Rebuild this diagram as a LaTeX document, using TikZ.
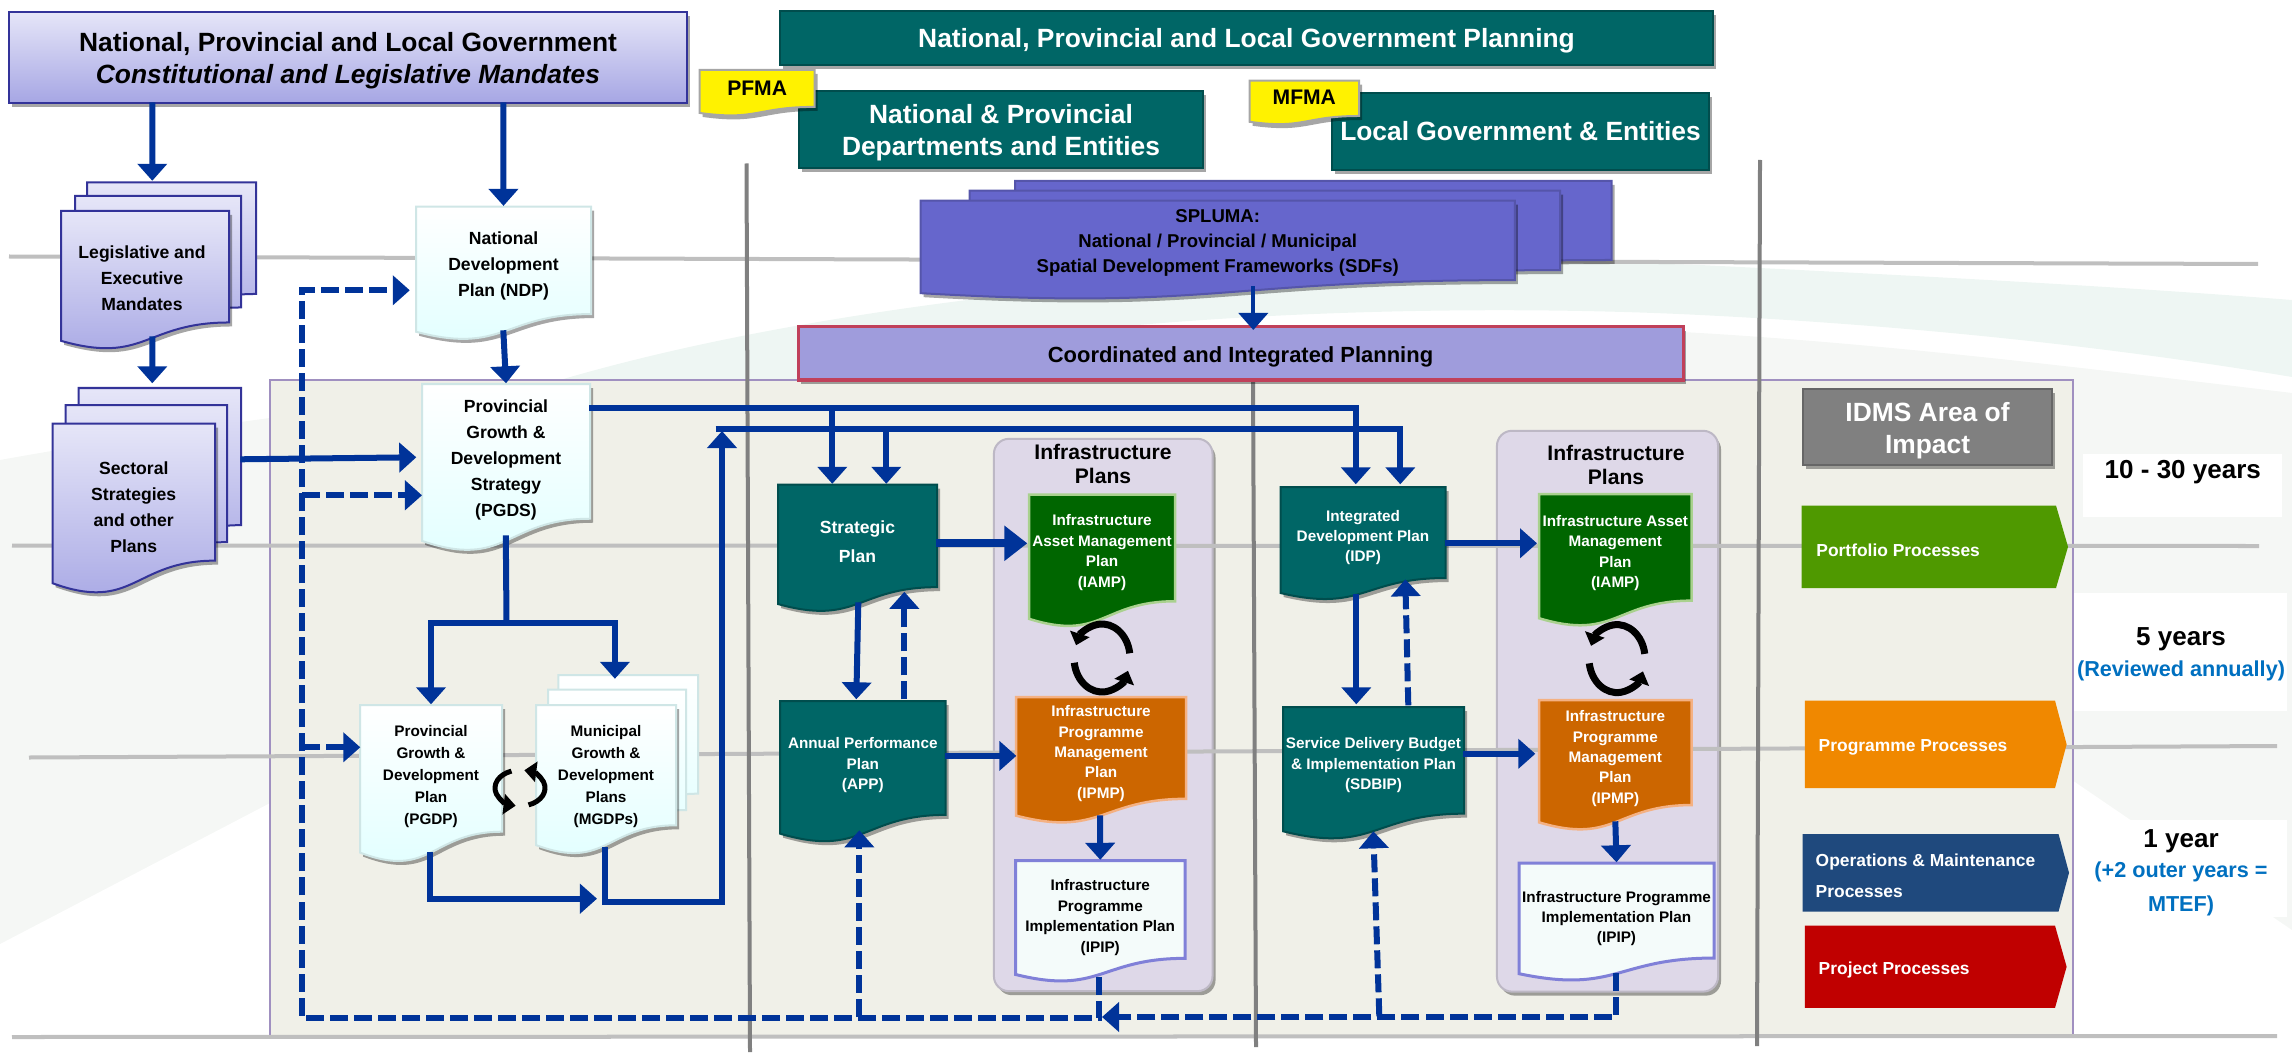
\documentclass[tikz,border=0pt]{standalone}
\usepackage{fontspec}
\setmainfont{Liberation Sans}
\usetikzlibrary{arrows.meta}
\usetikzlibrary{shadows}
\definecolor{flowblue}{HTML}{003399}
\definecolor{linegray}{HTML}{BFBFBF}
\definecolor{poledark}{HTML}{808080}
\definecolor{tealbase}{HTML}{006666}
\definecolor{tealdark}{HTML}{004D4D}
\definecolor{paneloff}{HTML}{F0F0E8}
\definecolor{panelrim}{HTML}{A090C0}
\definecolor{infrafill}{HTML}{DED8E8}
\definecolor{annualblue}{HTML}{0070C0}
\definecolor{swooshgreen}{HTML}{EEF6F3}
\definecolor{swooshgray}{HTML}{F5F7F5}
\definecolor{lilacA}{HTML}{E6E6F8}
\definecolor{lilacB}{HTML}{A6A6E4}
\definecolor{lilacC}{HTML}{333399}
\definecolor{paleB}{HTML}{E0FFFF}
\definecolor{paleC}{HTML}{CFE6E6}
\definecolor{iampgreen}{HTML}{006600}
\definecolor{iamprim}{HTML}{A9D18E}
\definecolor{ipmporange}{HTML}{CC6600}
\definecolor{ipmprim}{HTML}{F4B183}
\definecolor{ipipfill}{HTML}{F4FBFA}
\definecolor{ipiprim}{HTML}{8080D8}
\definecolor{splumafill}{HTML}{6666CC}
\definecolor{splumarim}{HTML}{5555AA}
\definecolor{coordfill}{HTML}{9F9CDC}
\definecolor{coordrim}{HTML}{C0405A}
\definecolor{procgreen}{HTML}{4F9900}
\definecolor{procorange}{HTML}{F08800}
\definecolor{procblue}{HTML}{1F497D}
\definecolor{procred}{HTML}{C00000}

\tikzset{
  softshadow/.style={drop shadow={shadow xshift=.03cm,shadow yshift=-.04cm,opacity=.35,fill=black}},
  flowline/.style={draw=flowblue,line width=.06cm,-{Triangle[length=.17cm,width=.29cm]}},
  flowbare/.style={draw=flowblue,line width=.06cm},
  flowbig/.style={draw=flowblue,line width=.08cm,-{Triangle[length=.23cm,width=.34cm]}},
  flowthin/.style={draw=flowblue,line width=.04cm,-{Triangle[length=.17cm,width=.29cm]}},
  flowdash/.style={flowline,dash pattern=on .18cm off .06cm},
  grayline/.style={draw=linegray,line width=.04cm},
  pole/.style={draw=poledark,line width=.04cm},
  lilacdoc/.style={top color=lilacA,bottom color=lilacB,draw=lilacC,line width=.02cm},
  paledoc/.style={top color=white,bottom color=paleB,draw=paleC,line width=.02cm},
  tealdoc/.style={fill=tealbase,draw=tealdark,line width=.02cm,softshadow},
  greendoc/.style={fill=iampgreen,draw=iamprim,line width=.025cm},
  orangedoc/.style={fill=ipmporange,draw=ipmprim,line width=.025cm},
  whitedoc/.style={fill=ipipfill,draw=ipiprim,line width=.03cm},
  notedoc/.style={fill=yellow,draw=black!35,line width=.02cm,softshadow},
  spluma/.style={fill=splumafill,draw=splumarim,line width=.02cm,softshadow},
  govfill/.style={lilacdoc,softshadow},
  coordshape/.style={fill=coordfill,draw=coordrim,line width=.03cm,softshadow},
  idmsshape/.style={fill=poledark,draw=black!60,line width=.02cm,softshadow},
  bigtext/.style={font=\bfseries\fontsize{7.5}{9.1}\selectfont,align=center,inner sep=0pt},
  bigwhite/.style={bigtext,text=white},
  doctext/.style={font=\bfseries\fontsize{5}{7.4}\selectfont,align=center,inner sep=0pt},
  smalltext/.style={font=\bfseries\fontsize{4.35}{5.8}\selectfont,align=center,inner sep=0pt},
  widesmall/.style={font=\bfseries\fontsize{4.35}{6.26}\selectfont,align=center,inner sep=0pt},
  stratext/.style={font=\bfseries\fontsize{5}{8.3}\selectfont,align=center,inner sep=0pt,text=white},
  proctext/.style={font=\bfseries\fontsize{4.95}{8.9}\selectfont,align=left,inner sep=0pt,text=white,anchor=west},
  yeartext/.style={font=\bfseries\fontsize{7.4}{9.1}\selectfont,align=center,inner sep=0pt},
  bluetext/.style={font=\bfseries\fontsize{6.15}{9.5}\selectfont,align=center,inner sep=0pt,text=annualblue},
  notetext/.style={font=\bfseries\fontsize{6}{7}\selectfont,inner sep=0pt},
  splumatext/.style={font=\bfseries\fontsize{5.28}{7.1}\selectfont,align=center,inner sep=0pt},
  coordtext/.style={font=\bfseries\fontsize{6.24}{7.5}\selectfont,inner sep=0pt},
  infrapanel/.style={fill=infrafill,draw=infrafill!85!black,line width=.02cm,rounded corners=.15cm,softshadow},
  infratitle/.style={font=\bfseries\fontsize{6}{6.8}\selectfont,align=center,inner sep=0pt},
  cyclearrow/.style={draw=black,line width=#1,-{Triangle[length=.12cm,width=.2cm]}},
}

% page with wavy foot: style, x, y, width, height
\newcommand{\docpage}[5]{%
  \path[#1] (#2,#3) -- ({#2+#4},#3) -- ({#2+#4},{#3+.802*#5})
    .. controls ({#2+.5*#4},{#3+.802*#5}) and ({#2+.5*#4},{#3+1.107*#5}) .. (#2,{#3+.934*#5}) -- cycle;}
% page plus its text: style, text style, name, x, y, width, height, text centre y, text
\newcommand{\docnode}[9]{%
  \docpage{#1}{#4}{#5}{#6}{#7}
  \node[#2,minimum width={#6*.01cm},minimum height={2*(#8+2.5-#5)*.01cm}] (#3) at ({#4+.5*#6},{#8+2.5}) {#9};}
% plain box plus its text, same arguments
\newcommand{\boxnode}[9]{%
  \path[#1] (#4,#5) rectangle ({#4+#6},{#5+#7});
  \node[#2,minimum width={#6*.01cm},minimum height={2*(#8+2.5-#5)*.01cm}] (#3) at ({#4+.5*#6},{#8+2.5}) {#9};}
% process tag: fill, name, x, shoulder x, tip x, top y, bottom y, text x, text
\newcommand{\procnode}[9]{%
  \fill[#1] (#3,#6) -- (#4,#6) -- (#5,{.5*(#6+#7)}) -- (#4,#7) -- (#3,#7) -- cycle;
  \node[proctext] (#2) at (#8,{.5*(#6+#7)+3}) {#9};}
% two arrows chasing each other: x, y, x radius, y radius, first angle, line width
\newcommand{\cyclepair}[6]{%
  \draw[cyclearrow=#6] ({#1+#3*cos(#5)},{#2-#4*sin(#5)}) arc[start angle=#5,delta angle=150,x radius=#3*.01cm,y radius=#4*.01cm];
  \draw[cyclearrow=#6] ({#1+#3*cos(#5+180)},{#2-#4*sin(#5+180)}) arc[start angle=#5+180,delta angle=150,x radius=#3*.01cm,y radius=#4*.01cm];}

\begin{document}
\begin{tikzpicture}[x=.01cm,y=-.01cm]
\useasboundingbox (0,0) rectangle (2292,1052);

% backdrop
\fill[swooshgray] (0,460) .. controls (500,370) and (1300,310) .. (1700,333) .. controls (1900,345) and (2100,370) .. (2292,393) -- (2292,930) -- (2072,780) -- (270,803) -- (0,944) -- cycle;
\fill[swooshgreen] (560,380) .. controls (900,280) and (1400,255) .. (1700,265) .. controls (1900,275) and (2100,285) .. (2292,300) -- (2292,377) .. controls (2100,345) and (1900,325) .. (1700,315) .. controls (1400,300) and (1000,320) .. (800,380) -- cycle;

% area panel
\draw[fill=paneloff,draw=panelrim,line width=.02cm] (269.5,380) rectangle (2072.6,1037);
\node[infrapanel,minimum width=2.185cm,minimum height=5.52cm] (infra1) at (1103.2,715) {};
\node[infrapanel,minimum width=2.21cm,minimum height=5.605cm] (infra2) at (1607.5,711.2) {};

% grey rules
\draw[grayline] (9,256.5) -- (2258,264);
\draw[grayline] (12,545.5) -- (2259,546);
\draw[grayline] (29,757.5) -- (2277,746);
\draw[grayline] (12,1037) -- (2277,1036);
\draw[pole] (746.5,163.5) -- (750,1052);
\draw[pole] (1253,380) -- (1256,1047);
\draw[pole] (1760,160) -- (1757,1046);

% year labels
\fill[white] (2083,454) rectangle (2282,516.7);
\fill[white] (2074,593) rectangle (2286.6,711);
\fill[white] (2074,820) rectangle (2286.6,917);
\node[yeartext] (yrs10) at (2182.8,472) {10 - 30 years};
\node[yeartext] (yrs5) at (2181,639) {5 years};
\node[bluetext] (yrs5b) at (2181,671) {(Reviewed annually)};
\node[yeartext] (yrs1) at (2181,841) {1 year};
\node[bluetext] (yrs1b) at (2181,889) {(+2 outer years =\\MTEF)};

% top boxes
\boxnode{govfill}{bigtext}{govbox}{9}{11.7}{678}{91.3}{58}{National, Provincial and Local Government\\\textit{Constitutional and Legislative Mandates}}
\boxnode{tealdoc}{bigwhite}{planbox}{780}{10.7}{933}{54.3}{38.5}{National, Provincial and Local Government Planning}
\boxnode{tealdoc}{bigwhite}{natbox}{799}{90.7}{404}{77.3}{130.5}{National \& Provincial\\Departments and Entities}
\boxnode{tealdoc}{bigwhite}{localbox}{1332}{92.7}{377}{77.3}{129}{Local Government \& Entities}
\docnode{notedoc}{notetext}{pfma}{699.6}{70}{115.1}{46}{86}{PFMA}
\docnode{notedoc}{notetext}{mfma}{1249.6}{80.7}{109.4}{44}{95.2}{MFMA}

% spatial frameworks
\docpage{spluma}{1015}{181}{596.6}{98.5}
\docpage{spluma}{969.7}{190.7}{590.3}{99}
\docnode{spluma}{splumatext}{splumadoc}{920.6}{200.7}{594.2}{99}{240.7}{SPLUMA:\\National / Provincial / Municipal\\Spatial Development Frameworks (SDFs)}
\boxnode{coordshape}{coordtext}{coordbox}{798}{326.7}{885}{53.3}{354.5}{Coordinated and Integrated Planning}

% mandates and national plans
\docpage{lilacdoc}{87}{182.5}{169}{139}
\docpage{lilacdoc}{75}{196}{166}{139}
\docnode{lilacdoc,softshadow}{doctext,xshift=-.03cm}{legis}{61}{211}{168}{139}{275.5}{Legislative and\\Executive\\Mandates}
\docpage{lilacdoc}{78.5}{388}{162.5}{171}
\docpage{lilacdoc}{65.5}{405}{161.5}{171}
\docnode{lilacdoc,softshadow}{doctext}{sector}{52.5}{423.5}{162.5}{171}{504.5}{Sectoral\\Strategies\\and other\\Plans}
\docnode{paledoc,softshadow}{doctext}{ndp}{416}{206.6}{175}{134}{263}{National\\Development\\Plan (NDP)}
\docnode{paledoc,softshadow}{doctext}{pgds}{422}{384}{168}{168}{457}{Provincial\\Growth \&\\Development\\Strategy\\(PGDS)}
\docnode{paledoc,softshadow}{widesmall}{pgdp}{360}{705}{142}{158}{774}{Provincial\\Growth \&\\Development\\Plan\\(PGDP)}
\docpage{paledoc}{558.4}{675}{139.6}{148}
\docpage{paledoc}{548}{689.7}{138}{150}
\docnode{paledoc,softshadow}{widesmall}{mgdp}{536}{705}{140}{150}{774.5}{Municipal\\Growth \&\\Development\\Plans\\(MGDPs)}
\cyclepair{520}{788}{25}{18}{110}{.05cm}

% strategic side
\docnode{tealdoc}{stratext}{strat}{778}{484.5}{159}{128}{539}{Strategic\\Plan}
\docnode{tealdoc}{smalltext,text=white}{app}{780}{701}{165.6}{142}{762.6}{Annual Performance\\Plan\\(APP)}
\node[infratitle] (infra1t) at (1103,464.3) {Infrastructure\\Plans};
\docnode{greendoc}{smalltext,text=white}{iamp1}{1029}{494.6}{146}{133}{550}{Infrastructure\\Asset Management\\Plan\\(IAMP)}
\docnode{orangedoc}{smalltext,text=white}{ipmp1}{1016}{697}{170}{127}{751}{Infrastructure\\Programme\\Management\\Plan\\(IPMP)}
\docnode{whitedoc}{smalltext}{ipip1}{1015.5}{860.5}{169.5}{122}{915}{Infrastructure\\Programme\\Implementation Plan\\(IPIP)}
\cyclepair{1102}{658}{28}{34}{8}{.07cm}

% integrated side
\docnode{tealdoc}{smalltext,text=white}{idp}{1280.5}{487}{165}{113.5}{535}{Integrated\\Development Plan\\(IDP)}
\docnode{tealdoc}{smalltext,text=white}{sdbip}{1283}{707}{181}{133}{762.6}{Service Delivery Budget\\\& Implementation Plan\\(SDBIP)}
\node[infratitle] (infra2t) at (1616,465) {Infrastructure\\Plans};
\docnode{greendoc}{smalltext,text=white}{iamp2}{1539}{494}{152.6}{133}{550.5}{Infrastructure Asset\\Management\\Plan\\(IAMP)}
\docnode{orangedoc}{smalltext,text=white}{ipmp2}{1539}{700}{152.6}{131}{756}{Infrastructure\\Programme\\Management\\Plan\\(IPMP)}
\docnode{whitedoc}{smalltext}{ipip2}{1519}{863}{195}{118.5}{916}{Infrastructure Programme\\Implementation Plan\\(IPIP)}
\cyclepair{1617}{658.6}{28}{34}{8}{.07cm}

% impact column
\boxnode{idmsshape}{bigwhite}{idms}{1803}{388.7}{249}{76.3}{428.5}{IDMS Area of\\Impact}
\procnode{procgreen}{portf}{1801.6}{2056}{2068}{505.6}{588}{1815.7}{Portfolio Processes}
\procnode{procorange}{progr}{1804.8}{2055}{2066.6}{700.7}{788}{1818}{Programme Processes}
\procnode{procblue}{opera}{1802.6}{2058.5}{2069}{834}{911.6}{1815}{Operations \& Maintenance\\Processes}
\procnode{procred}{proj}{1804.8}{2055}{2066.6}{925.7}{1007.8}{1818}{Project Processes}

% solid flow
\coordinate (pgdsfork) at (506.5,622.5);
\coordinate (retcorner) at (722,902);
\coordinate (rettop) at (722,431);
\draw[flowline] ([shift={(144,91.3)}]govbox.north west) -- ([shift={(95,-29.5)}]legis.north west);
\draw[flowline] ([shift={(495,91.3)}]govbox.north west) -- (ndp.north);
\draw[flowline] ([shift={(95,126)}]legis.north west) -- ([shift={(100.5,-39.5)}]sector.north west);
\draw[flowline] ([shift={(88,124.4)}]ndp.north west) -- (pgds.north);
\draw[flowline] ([shift={(188.5,36.5)}]sector.north west) -- ([shift={(-5,74)}]pgds.north west);
\draw[flowbare] ([shift={(84.5,152)}]pgds.north west) -- (pgdsfork);
\draw[flowline] (pgdsfork) -| (pgdp.north);
\draw[flowline] (pgdsfork) -| ([shift={(79.6,-25.5)}]mgdp.north west);
\draw[flowline] ([shift={(70.5,147.5)}]pgdp.north west) |- ([shift={(61.7,194.4)}]mgdp.north west);
\draw[flowline] ([shift={(70,142.5)}]mgdp.north west) |- (retcorner) -- (rettop);
\draw[flowline] ([shift={(-6.5,-2)}]rettop) -| ([shift={(120.5,-2)}]idp.north west);
\draw[flowline] ([shift={(109,-55.5)}]strat.north west) -- ([shift={(109,0)}]strat.north west);
\draw[flowline] ([shift={(168,25)}]pgds.north west) -| ([shift={(76,-2)}]idp.north west);
\draw[flowline] ([shift={(55,-75.5)}]strat.north west) -- ([shift={(55,0)}]strat.north west);
\draw[flowline] ([shift={(81,118.5)}]strat.north west) -- ([shift={(77,-1)}]app.north west);
\draw[flowbig] ([shift={(159,59.5)}]strat.north west) -- ([shift={(-1,49.4)}]iamp1.north west);
\draw[flowline] ([shift={(165.6,55.6)}]app.north west) -- ([shift={(1,59.6)}]ipmp1.north west);
\draw[flowline] ([shift={(84.7,119)}]ipmp1.north west) -- (ipip1.north);
\draw[flowline] ([shift={(76.5,108)}]idp.north west) -- ([shift={(74,-2)}]sdbip.north west);
\draw[flowline] ([shift={(165,57)}]idp.north west) -- ([shift={(-1.3,50)}]iamp2.north west);
\draw[flowline] ([shift={(181,47.5)}]sdbip.north west) -- ([shift={(-3,54.5)}]ipmp2.north west);
\draw[flowline] ([shift={(77,122)}]ipmp2.north west) -- (ipip2.north);
\draw[flowthin] ([shift={(333.4,86)}]splumadoc.north west) -- ([shift={(456,4)}]coordbox.north west);

% dashed feedback
\coordinate (dashcorner) at (302,1018);
\coordinate (dashmid) at (1102,1017);
\coordinate (pgdsin) at ([shift={(.7,112)}]pgds.north west);
\coordinate (pgdpin) at ([shift={(1,43)}]pgdp.north west);
\coordinate (appin) at ([shift={(80,130)}]app.north west);
\draw[flowdash] ([shift={(84.5,117.5)}]ipip1.north west) |- (dashcorner) |- ([shift={(-5.5,84.4)}]ndp.north west);
\draw[flowdash] (dashcorner |- pgdsin) -- (pgdsin);
\draw[flowdash] (dashcorner |- pgdpin) -- (pgdpin);
\draw[flowdash] ([shift={(97.6,111)}]ipip2.north west) |- (dashmid);
\draw[flowdash] (appin |- dashmid) -- (appin);
\draw[flowdash] ([shift={(97,310)}]sdbip.north west) -- ([shift={(91,125)}]sdbip.north west);
\draw[flowdash] ([shift={(125,-1)}]app.north west) -- ([shift={(127,108)}]strat.north west);
\draw[flowdash] ([shift={(126,-1)}]sdbip.north west) -- ([shift={(125.5,93)}]idp.north west);

\end{tikzpicture}
\end{document}
